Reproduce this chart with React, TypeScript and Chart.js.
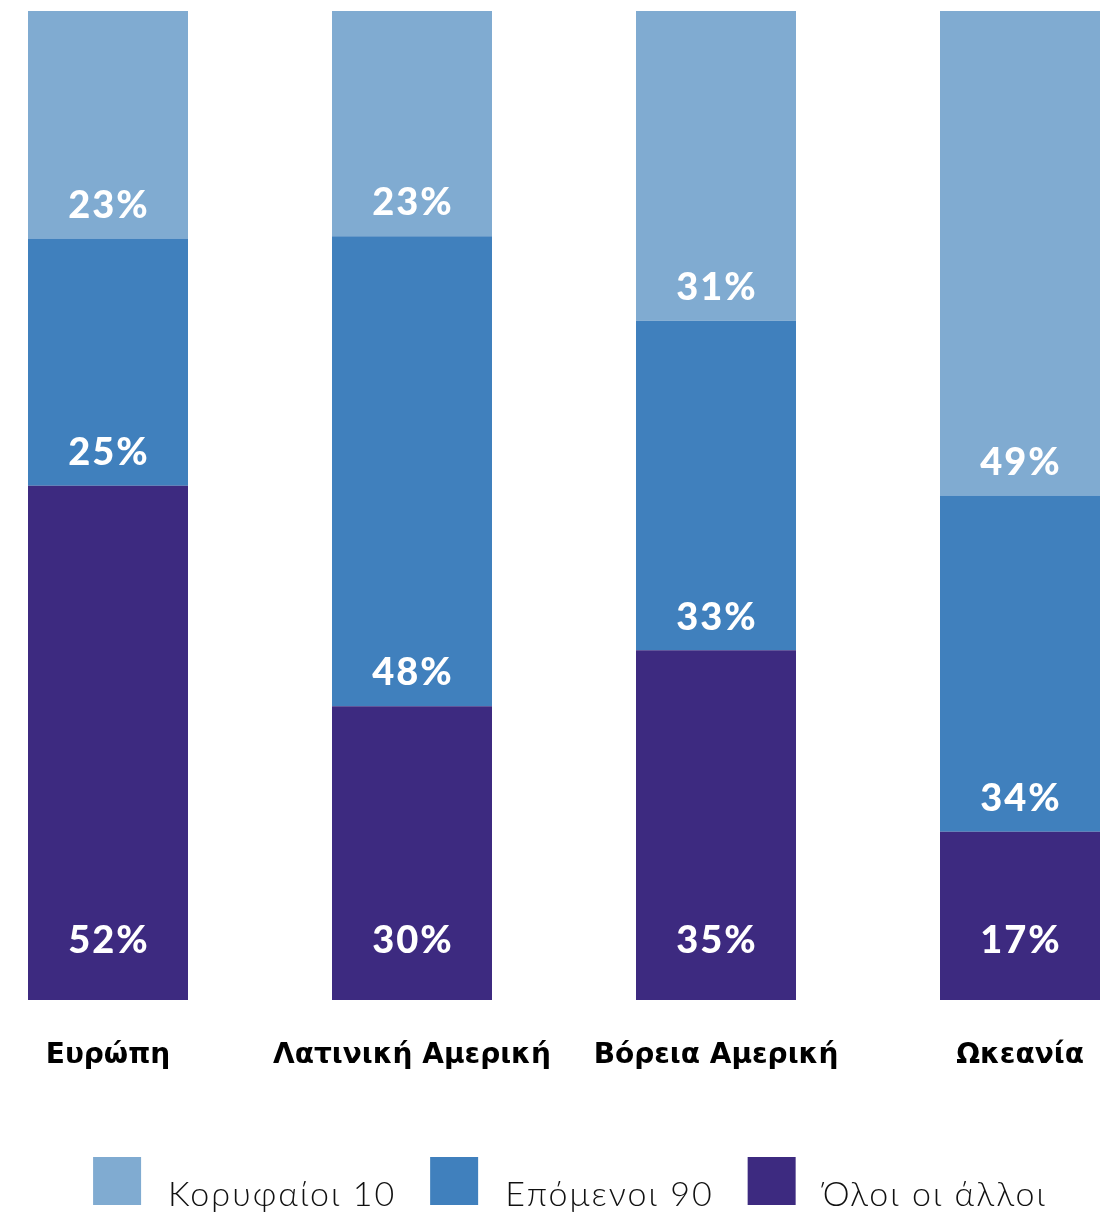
import { useEffect, useRef } from "react";
import { Chart, registerables } from "chart.js";

Chart.register(...registerables);

// ---- data ----
const categories = ["Ευρώπη", "Λατινική Αμερική", "Βόρεια Αμερική", "Ωκεανία"];
const allOthers = [52, 30, 35, 17];
const next90 = [25, 48, 33, 34];
const top10 = [23, 23, 31, 49];
const seriesNames = ["Όλοι οι άλλοι", "Επόμενοι 90", "Κορυφαίοι 10"];
const seriesColors = ["#3D2A80", "#4080BD", "#80ABD1"];
const rawSeries = [allOthers, next90, top10];

const totals = categories.map((_, i) => rawSeries.reduce((s, arr) => s + arr[i], 0));
const normalized = rawSeries.map((arr) => arr.map((v, i) => (v / totals[i]) * 100));

const FONT = "Lato, 'Open Sans', 'DejaVu Sans', sans-serif";
const AXIS_FONT = "'DejaVu Sans', 'Open Sans', sans-serif";

const segLabels = {
  id: "segLabels",
  afterDatasetsDraw(chart: any) {
    const ctx = chart.ctx;
    ctx.save();
    ctx.letterSpacing = "2px";
    ctx.fillStyle = "#ffffff";
    ctx.font = `900 38px ${FONT}`;
    ctx.textAlign = "center";
    ctx.textBaseline = "middle";
    chart.data.datasets.forEach((_: any, di: number) => {
      const meta = chart.getDatasetMeta(di);
      meta.data.forEach((bar: any, i: number) => {
        const { x, base } = bar.getProps(["x", "base"], true);
        const offset = di === 0 ? 59 : 33;
        ctx.fillText(rawSeries[di][i] + "%", x + 1, base - offset);
      });
    });
    ctx.restore();
  },
};

const legendPlugin = {
  id: "customLegend",
  afterDraw(chart: any) {
    const ctx = chart.ctx;
    ctx.save();
    ctx.letterSpacing = "2px";
    ctx.font = `300 34px ${FONT}`;
    const order = [2, 1, 0];
    const box = 48;
    const gap = 27;
    const itemGap = 34;
    const widths = order.map((di) => ctx.measureText(chart.data.datasets[di].label).width);
    const total = widths.reduce((s, w) => s + box + gap + w, 0) + itemGap * (order.length - 1);
    let x = chart.width / 2 + 6 - total / 2;
    const boxTop = 1157;
    order.forEach((di, k) => {
      const ds = chart.data.datasets[di];
      ctx.fillStyle = ds.backgroundColor;
      ctx.fillRect(x, boxTop, box, box);
      ctx.fillStyle = "#111111";
      ctx.textAlign = "left";
      ctx.textBaseline = "alphabetic";
      ctx.fillText(ds.label, x + box + gap, 1206);
      x += box + gap + widths[k] + itemGap;
    });
    ctx.restore();
  },
};

export default function App() {
  const ref = useRef<HTMLCanvasElement>(null);
  useEffect(() => {
    if (!ref.current) return;
    const chart = new Chart(ref.current, {
      type: "bar",
      data: {
        labels: categories,
        datasets: rawSeries.map((_, di) => ({
          label: seriesNames[di],
          data: normalized[di],
          backgroundColor: seriesColors[di],
          borderWidth: 0,
          categoryPercentage: 160 / 304,
          barPercentage: 1,
        })),
      },
      options: {
        responsive: false,
        animation: false,
        layout: { padding: { top: 11, bottom: 140, left: 0, right: 0 } },
        scales: {
          x: {
            stacked: true,
            grid: { display: false, drawTicks: false },
            border: { display: false },
            ticks: {
              color: "#000000",
              font: { family: AXIS_FONT, size: 28, weight: "bold" },
              padding: 39,
              maxRotation: 0,
              autoSkip: false,
            },
            afterFit: (s: any) => {
              s.height = 73;
            },
          },
          y: { stacked: true, display: false, min: 0, max: 100 },
        },
        plugins: {
          legend: { display: false },
          tooltip: { enabled: false },
        },
      },
      plugins: [segLabels, legendPlugin],
    });
    return () => chart.destroy();
  }, []);

  return (
    <div style={{ position: "fixed", left: 0, top: 0, width: 1101, height: 1213, overflow: "hidden", background: "#fff" }}>
      <div style={{ position: "absolute", left: -44, top: 0, width: 1216, height: 1213 }}>
        <canvas ref={ref} width={1216} height={1213} style={{ display: "block" }} />
      </div>
    </div>
  );
}
